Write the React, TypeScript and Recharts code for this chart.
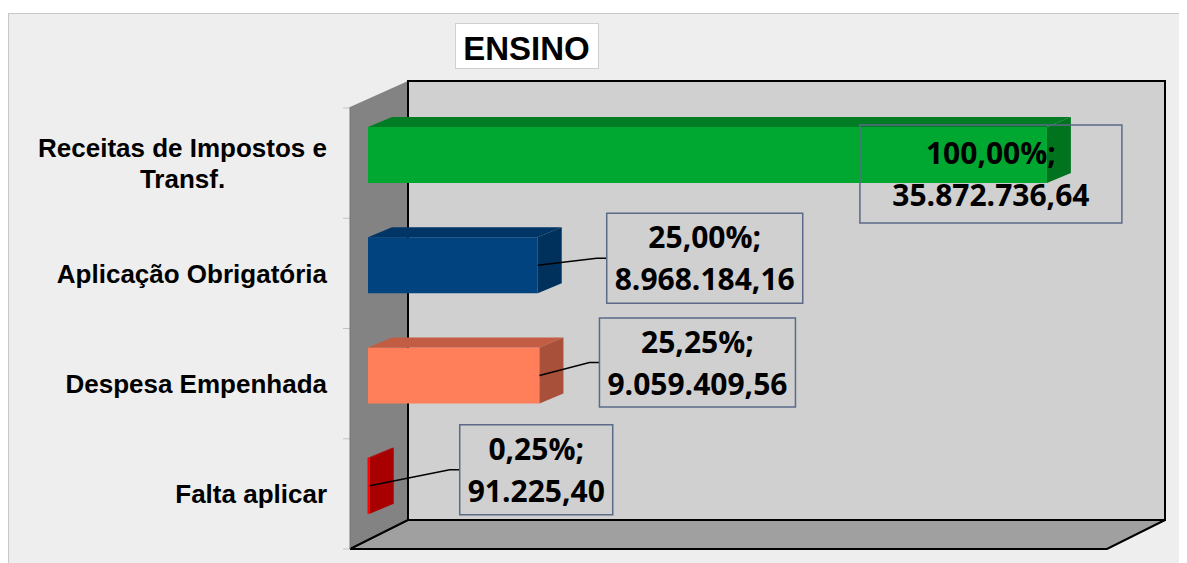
import React from 'react';
import { BarChart, Bar, XAxis, YAxis, LabelList } from 'recharts';

const categories = [
  'Receitas de Impostos e Transf.',
  'Aplicação Obrigatória',
  'Despesa Empenhada',
  'Falta aplicar',
];
const amounts = [35872736.64, 8968184.16, 9059409.56, 91225.4];
const percents = [100, 25, 25.25, 0.25];
const axisMax = 40000000;

const data = categories.map((name, i) => ({ name, value: amounts[i], pct: percents[i] }));

const W = 1179;
const H = 555;
const FRONT_FILL = ['#00a832', '#00437f', '#ff7f5b', '#ff1a1a'];
const TOP_FILL = ['#007d24', '#003566', '#c25d43', '#c00000'];
const SIDE_FILL = ['#00731f', '#00305c', '#a8503a', '#a80000'];
const DEPTH_X = 24;
const DEPTH_Y = 10;
const LIFT = 8;
const LABEL_RIGHT = 319;

// where each data label box sits, relative to the bar end / bar centre
const labelBoxes = [
  { dx: -187, dy: 19, w: 262, h: 98, leader: false },
  { dx: 69, dy: -7, w: 196, h: 90, leader: true },
  { dx: 60, dy: -13, w: 196, h: 89, leader: true },
  { dx: 90, dy: -16, w: 153, h: 90, leader: true },
];

const CAT_FONT = 'bold 26px "Liberation Sans"';

let ctx: CanvasRenderingContext2D | null = null;
function textWidth(s: string, font: string) {
  if (!ctx) ctx = document.createElement('canvas').getContext('2d');
  if (!ctx) return s.length * 14;
  ctx.font = font;
  return ctx.measureText(s).width;
}

function wrap(s: string, maxW: number) {
  const words = s.split(' ');
  const lines: string[] = [];
  let cur = '';
  words.forEach(w => {
    const next = cur ? cur + ' ' + w : w;
    if (cur && textWidth(next, CAT_FONT) > maxW) {
      lines.push(cur);
      cur = w;
    } else cur = next;
  });
  if (cur) lines.push(cur);
  return lines;
}

function fmt(v: number) {
  const [i, f] = v.toFixed(2).split('.');
  return i.replace(/\B(?=(\d{3})+(?!\d))/g, '.') + ',' + f;
}

const CategoryTick = (props: any) => {
  const { y, payload } = props;
  const lines = wrap(String(payload.value), 300);
  const lineH = 31;
  const blockW = Math.max(...lines.map(l => textWidth(l, CAT_FONT)));
  const cx = LABEL_RIGHT - blockW / 2;
  const first = y - ((lines.length - 1) * lineH) / 2 + 9.5;
  return (
    <text
      textAnchor="middle"
      fontFamily="'Liberation Sans', Arial, sans-serif"
      fontWeight="bold"
      fontSize={26}
      fill="#000"
    >
      {lines.map((l, i) => (
        <tspan key={i} x={cx} y={first + i * lineH}>
          {l}
        </tspan>
      ))}
    </text>
  );
};

const Bar3D = (props: any) => {
  const { x, y, width, height, index } = props;
  const yy = y - LIFT;
  const r = x + width;
  return (
    <g>
      <rect x={x} y={yy} width={Math.max(width, 0.5)} height={height} fill={FRONT_FILL[index]} />
      <polygon
        points={`${x},${yy} ${x + DEPTH_X},${yy - DEPTH_Y} ${r + DEPTH_X},${yy - DEPTH_Y} ${r},${yy}`}
        fill={TOP_FILL[index]}
      />
      <polygon
        points={`${r},${yy} ${r + DEPTH_X},${yy - DEPTH_Y} ${r + DEPTH_X},${yy + height - DEPTH_Y} ${r},${yy + height}`}
        fill={SIDE_FILL[index]}
      />
      {index === 3 && (
        <line x1={x + 0.5} y1={yy} x2={x + 0.5} y2={yy + height} stroke="#ff0000" strokeWidth={2} />
      )}
    </g>
  );
};

const DataLabel = (props: any) => {
  const vb = props.viewBox || {};
  const x = props.x ?? vb.x;
  const y = props.y ?? vb.y;
  const width = props.width ?? vb.width;
  const height = props.height ?? vb.height;
  const index = props.index;
  const box = labelBoxes[index];
  if (!box) return null;
  const end = x + width;
  const cy = y + height / 2 - LIFT;
  const boxCy = cy + box.dy;
  const left = end + box.dx;
  const top = boxCy - box.h / 2;
  const cx = left + box.w / 2;
  return (
    <g>
      {box.leader && (
        <polyline
          points={`${end},${cy} ${left - 10},${boxCy} ${left},${boxCy}`}
          fill="none"
          stroke="#000"
          strokeWidth={1.3}
        />
      )}
      <rect x={left} y={top} width={box.w} height={box.h} fill="none" stroke="#5a6a88" strokeWidth={1.5} />
      <text
        textAnchor="middle"
        fontFamily="'Open Sans', sans-serif"
        fontWeight="bold"
        fontSize={30}
        fill="#000"
      >
        <tspan x={cx} y={boxCy - 10}>{fmt(percents[index])}%;</tspan>
        <tspan x={cx} y={boxCy + 32}>{fmt(amounts[index])}</tspan>
      </text>
    </g>
  );
};

function Backdrop() {
  const ticks = [0, 1, 2, 3, 4].map(k => 100 + k * 110.25);
  return (
    <svg width={W} height={H} style={{ position: 'absolute', left: 0, top: 0 }}>
      <rect x={0.5} y={5.5} width={1200} height={600} fill="#eeeeee" stroke="#c8c8c8" />
      <rect x={447.5} y={15.5} width={143} height={45} fill="#ffffff" stroke="#d0d0d0" />
      <text
        x={518.5}
        y={52}
        textAnchor="middle"
        fontFamily="'Liberation Sans', Arial, sans-serif"
        fontWeight="bold"
        fontSize={33}
        fill="#000"
      >
        ENSINO
      </text>
      {ticks.map(t => (
        <line key={t} x1={335} y1={t} x2={342} y2={t} stroke="#c4c4c4" />
      ))}
      <polygon points="342,99 400,73 400,512 342,541" fill="#838383" />
      <polygon points="342,541 400,512 1157,512 1099,541" fill="#a0a0a0" />
      <rect x={400} y={73} width={757} height={439} fill="#d0d0d0" stroke="#000" strokeWidth={2} />
      <polyline points="342,541 400,512" fill="none" stroke="#000" strokeWidth={2} />
      <polyline points="342,541 1099,541 1157,512" fill="none" stroke="#000" strokeWidth={2} />
      <line x1={342} y1={99} x2={342} y2={541} stroke="#777" strokeWidth={1} />
    </svg>
  );
}

export default function App() {
  return (
    <div style={{ position: 'relative', width: W, height: H }}>
      <Backdrop />
      <div style={{ position: 'absolute', left: 0, top: 0 }}>
        <BarChart
          width={W}
          height={H}
          data={data}
          layout="vertical"
          margin={{ top: 100, right: 62, bottom: 14, left: 0 }}
        >
          <XAxis type="number" domain={[0, axisMax]} hide />
          <YAxis
            type="category"
            dataKey="name"
            width={360}
            axisLine={false}
            tickLine={false}
            tick={<CategoryTick />}
            interval={0}
          />
          <Bar dataKey="value" barSize={56} shape={<Bar3D />} isAnimationActive={false}>
            <LabelList dataKey="value" content={(p: any) => <DataLabel {...p} />} />
          </Bar>
        </BarChart>
      </div>
    </div>
  );
}
